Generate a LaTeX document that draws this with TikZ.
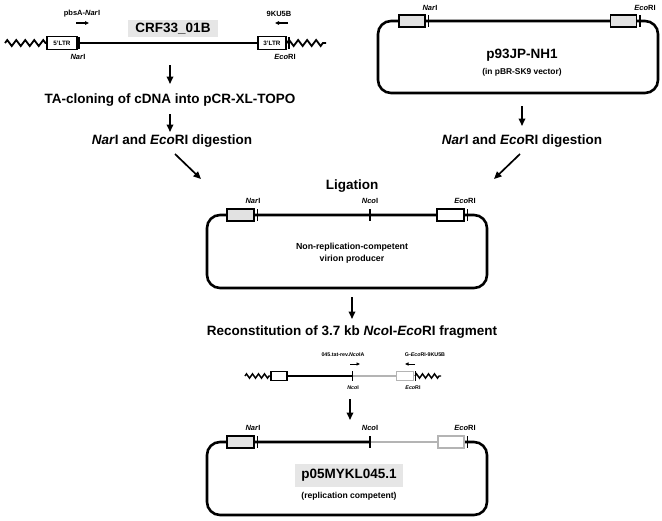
\documentclass[tikz,border=0pt]{standalone}
\usepackage{fontspec}
\setmainfont{Liberation Sans}
\usetikzlibrary{arrows.meta,decorations.pathmorphing}
\definecolor{boxgray}{HTML}{E2E2E2}
\definecolor{lblgray}{HTML}{E6E6E6}
\definecolor{seqgray}{HTML}{B4B4B4}
\begin{document}
\begin{tikzpicture}[x=1pt,y=-1pt,
  seqline/.style={line width=2.2pt},
  plasmid/.style={line width=2.6pt, rounded corners=13pt},
  featbox/.style={draw, line width=1.8pt, fill=boxgray, minimum height=12pt, inner sep=0pt},
  ltrbox/.style={draw, line width=1.8pt, fill=white, minimum height=13pt, minimum width=30pt, inner sep=0pt, font=\fontsize{6.3}{7}\selectfont\bfseries},
  smallbox/.style={draw, line width=1.5pt, fill=white, minimum height=9pt, minimum width=16pt, inner sep=0pt},
  cuttick/.style={line width=1.3pt},
  zz/.style={line width=1.8pt, decorate, decoration={zigzag, segment length=9pt, amplitude=3pt}},
  flow/.style={line width=1.7pt, -{Triangle[length=7.5pt,width=6.5pt]}},
  primer/.style={line width=1.1pt, -{Triangle[length=4pt,width=3.5pt]}},
  steptext/.style={font=\fontsize{13.5}{16}\selectfont\bfseries},
  bigname/.style={font=\fontsize{13.5}{16}\selectfont\bfseries},
  site/.style={font=\fontsize{7.5}{8.5}\selectfont\bfseries},
  tiny/.style={font=\fontsize{5.3}{6.3}\selectfont\bfseries},
  note/.style={font=\fontsize{8.8}{11.5}\selectfont\bfseries, align=center}
]
\useasboundingbox (0,0) rectangle (662,520);

% ---------------- top left: CRF33_01B ----------------
\node[fill=lblgray, minimum width=90pt, minimum height=17pt, inner sep=0pt, bigname] (crf) at (173,28.5) {CRF33\_01B};
\node[site] (pbsA) at (82,14) {pbsA-\textit{Nar}I};
\node[site] (ku5b) at (279,14) {9KU5B};
\coordinate (pa1) at (76,23); \coordinate (pa2) at (89,23);
\coordinate (pb1) at (288,23); \coordinate (pb2) at (275,23);
\draw[primer] (pa1) -- (pa2);
\draw[primer] (pb1) -- (pb2);
\node[ltrbox] (ltr5) at (62,43) {5'LTR};
\node[ltrbox, minimum width=28pt] (ltr3) at (272,43) {3'LTR};
\coordinate (zl1) at (5,43); \coordinate (zr2) at (326,43);
\draw[seqline] (ltr5.east) -- (ltr3.west);
\draw[zz] (zl1) -- (44,43) -- (ltr5.west);
\draw[cuttick] (79,37) -- (79,49);
\draw[zz] (ltr3.east) -- (zr2);
\draw[cuttick] (289,37) -- (289,49);
\node[site] (narL) at (78,57) {\textit{Nar}I};
\node[site] (ecoL) at (285,57) {\textit{Eco}RI};

\coordinate (a1s) at (170,65); \coordinate (a1e) at (170,84);
\draw[flow] (a1s) -- (a1e);
\node[steptext] (ta) at (170,100) {TA-cloning of cDNA into pCR-XL-TOPO};
\coordinate (a2s) at (170,114); \coordinate (a2e) at (170,132);
\draw[flow] (a2s) -- (a2e);
\node[steptext] (digL) at (172,141) {\textit{Nar}I and \textit{Eco}RI digestion};
\coordinate (a3s) at (175,154); \coordinate (a3e) at (201,179);
\draw[flow] (a3s) -- (a3e);

% ---------------- top right: p93JP-NH1 ----------------
\draw[plasmid] (378,21) rectangle (658,93);
\node[featbox, minimum width=26pt] (rNar) at (412,21) {};
\node[featbox, minimum width=26pt] (rEco) at (623.5,21) {};
\draw[cuttick] (428.5,15) -- (428.5,27);
\draw[cuttick] (640,15) -- (640,27);
\node[site] (rNarL) at (430,8) {\textit{Nar}I};
\node[site] (rEcoL) at (645,8) {\textit{Eco}RI};
\node[bigname] (p93) at (522,55) {p93JP-NH1};
\node[font=\fontsize{8.4}{10}\selectfont\bfseries] (p93v) at (522,72) {(in pBR-SK9 vector)};
\coordinate (b1s) at (522,106); \coordinate (b1e) at (522,126);
\draw[flow] (b1s) -- (b1e);
\node[steptext] (digR) at (522,141) {\textit{Nar}I and \textit{Eco}RI digestion};
\coordinate (b2s) at (520,154); \coordinate (b2e) at (494,179);
\draw[flow] (b2s) -- (b2e);

% ---------------- middle: ligation product ----------------
\node[steptext] (lig) at (352,186) {Ligation};
\draw[plasmid] (207,215) rectangle (487,288);
\node[featbox, minimum width=27pt] (mNar) at (240.5,215) {};
\node[featbox, minimum width=27pt, fill=white] (mEco) at (450.5,215) {};
\draw[cuttick] (257.5,209) -- (257.5,221);
\draw[cuttick] (370,209) -- (370,221);
\draw[cuttick] (467.5,209) -- (467.5,221);
\node[site] (mNarL) at (253,201) {\textit{Nar}I};
\node[site] (mNcoL) at (370,201) {\textit{Nco}I};
\node[site] (mEcoL) at (465,201) {\textit{Eco}RI};
\node[note] (nrc) at (352,253) {Non-replication-competent\\virion producer};
\coordinate (c1s) at (352,297); \coordinate (c1e) at (352,319);
\draw[flow] (c1s) -- (c1e);
\node[steptext] (recon) at (352,332) {Reconstitution of 3.7 kb \textit{Nco}I-\textit{Eco}RI fragment};

% ---------------- small fragment ----------------
\node[smallbox] (sb1) at (279,376) {};
\node[smallbox, draw=seqgray, minimum width=17pt] (sb2) at (405,376) {};
\coordinate (sz1) at (245,376); \coordinate (sz2) at (441,376);
\coordinate (snco) at (352,376);
\draw[line width=1.8pt] (sb1.east) -- (snco);
\draw[line width=1.8pt, seqgray] (snco) -- (sb2.west);
\draw[line width=1.4pt, decorate, decoration={zigzag, segment length=6pt, amplitude=2.2pt}] (sz1) -- (sb1.west);
\draw[line width=1.4pt, decorate, decoration={zigzag, segment length=6pt, amplitude=2.2pt}] (415,376) -- (sz2);
\draw[line width=1pt] (352,371) -- (352,381);
\draw[line width=1pt] (415,371) -- (415,381);
\node[tiny] (pr1) at (343,355) {045.tat-rev.\textit{Nco}IA};
\node[tiny] (pr2) at (425,355) {G-\textit{Eco}RI-9KU5B};
\coordinate (s1a) at (350,364); \coordinate (s1b) at (360,364);
\coordinate (s2a) at (415,364); \coordinate (s2b) at (405,364);
\draw[line width=0.9pt, -{Triangle[length=3.5pt,width=3pt]}] (s1a) -- (s1b);
\draw[line width=0.9pt, -{Triangle[length=3.5pt,width=3pt]}] (s2a) -- (s2b);
\node[tiny] (sNco) at (353,388) {\textit{Nco}I};
\node[tiny] (sEco) at (413,388) {\textit{Eco}RI};

\coordinate (d1s) at (350,399); \coordinate (d1e) at (350,420);
\draw[flow] (d1s) -- (d1e);

% ---------------- bottom: p05MYKL045.1 ----------------
\coordinate (bnco) at (370,442);
\coordinate (beco) at (450,442);
\draw[plasmid] (bnco) -- (207,442) -- (207,515) -- (487,515) -- (487,442) -- (beco);
\draw[line width=2.4pt, seqgray] (bnco) -- (beco);
\node[featbox, minimum width=27pt] (bNar) at (240.5,442) {};
\node[featbox, minimum width=26pt, fill=white, draw=seqgray] (bEco) at (451,442) {};
\draw[cuttick] (257.5,436) -- (257.5,448);
\draw[cuttick] (370,436) -- (370,448);
\draw[cuttick] (467.5,436) -- (467.5,448);
\node[site] (bNarL) at (253,428) {\textit{Nar}I};
\node[site] (bNcoL) at (370,428) {\textit{Nco}I};
\node[site] (bEcoL) at (465,428) {\textit{Eco}RI};
\node[fill=lblgray, minimum width=108pt, minimum height=23pt, inner sep=0pt, bigname] (p05) at (349,475) {p05MYKL045.1};
\node[font=\fontsize{8.6}{10}\selectfont\bfseries] (p05n) at (349,496) {(replication competent)};
\end{tikzpicture}
\end{document}
